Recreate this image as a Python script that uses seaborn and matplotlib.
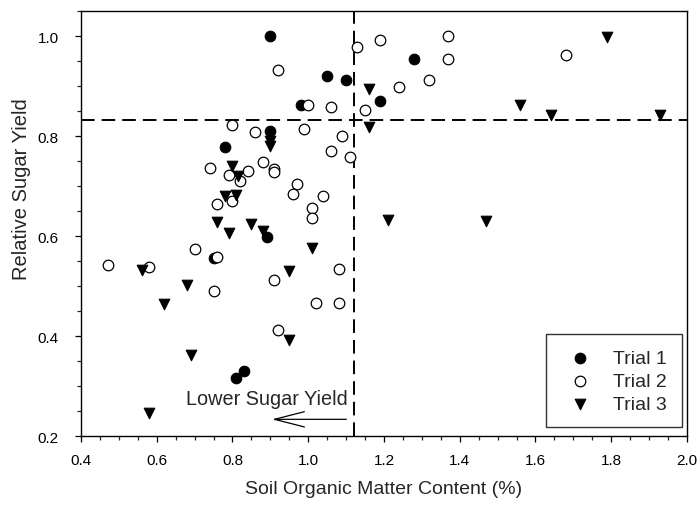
import numpy as np
import pandas as pd
import matplotlib
matplotlib.use('Agg')
import matplotlib.pyplot as plt
from matplotlib.ticker import MultipleLocator, FormatStrFormatter
import seaborn as sns

# Dati
trial1_x = [0.90, 1.05, 1.10, 0.98, 1.19, 1.28, 0.90, 0.78, 0.89, 0.75, 0.81, 0.83]
trial1_y = [1.00, 0.921, 0.913, 0.863, 0.870, 0.955, 0.810, 0.778, 0.599, 0.557, 0.317, 0.330]

trial2_x = [0.92, 1.13, 1.19, 1.37, 1.37, 1.68, 1.32, 1.24, 1.00, 1.06, 1.15, 0.80, 0.86, 0.99,
            1.09, 1.06, 1.11, 0.74, 0.88, 0.91, 0.91, 0.79, 0.84, 0.82, 0.97, 0.96, 1.04, 1.01,
            1.01, 0.76, 0.80, 0.47, 0.58, 0.70, 0.75, 0.76, 0.91, 0.92, 1.02, 1.08, 1.08]
trial2_y = [0.933, 0.979, 0.992, 1.001, 0.955, 0.962, 0.913, 0.898, 0.862, 0.858, 0.853, 0.822, 0.809, 0.815,
            0.800, 0.770, 0.759, 0.736, 0.749, 0.735, 0.728, 0.722, 0.730, 0.710, 0.705, 0.685, 0.680, 0.657,
            0.637, 0.665, 0.671, 0.542, 0.538, 0.575, 0.491, 0.559, 0.513, 0.413, 0.466, 0.467, 0.535]

trial3_x = [1.16, 1.16, 0.90, 0.90, 0.80, 0.815, 0.78, 0.81, 0.76, 0.79, 0.85, 0.88, 0.56,
            0.62, 0.68, 0.69, 0.58, 0.95, 0.95, 1.01, 1.56, 1.64, 1.93, 1.79, 1.21, 1.47]
trial3_y = [0.895, 0.819, 0.790, 0.780, 0.740, 0.720, 0.680, 0.683, 0.629, 0.607, 0.625, 0.610, 0.533,
            0.465, 0.503, 0.362, 0.247, 0.531, 0.393, 0.577, 0.863, 0.842, 0.843, 0.998, 0.633, 0.630]

# Soglie (linee tratteggiate)
soglia_som = 1.12
soglia_resa = 0.833

sns.set_style('ticks')
plt.rcParams['font.family'] = ['Liberation Sans', 'DejaVu Sans']

fig = plt.figure(figsize=(7, 5.1), dpi=100)
ax = fig.add_axes([0.1157, 0.1431, 0.8657, 0.8333])

sns.scatterplot(x=trial1_x, y=trial1_y, ax=ax, marker='o', s=58, color='black',
                edgecolor='black', linewidth=0.8, label='Trial 1', zorder=3)
sns.scatterplot(x=trial2_x, y=trial2_y, ax=ax, marker='o', s=58, color='white',
                edgecolor='black', linewidth=0.9, label='Trial 2', zorder=3)
sns.scatterplot(x=trial3_x, y=trial3_y, ax=ax, marker='v', s=58, color='black',
                edgecolor='black', linewidth=0.8, label='Trial 3', zorder=3)

ax.axhline(soglia_resa, color='black', lw=1.4, linestyle=(0, (7, 3.6)), zorder=2)
ax.axvline(soglia_som, color='black', lw=1.4, linestyle=(0, (7, 3.6)), zorder=2)

# Freccia e testo
ax.annotate('', xy=(0.897, 0.2334), xytext=(1.108, 0.2334),
            arrowprops=dict(arrowstyle='->,head_length=2.15,head_width=0.55', color='black', lw=0.9))
ax.text(1.105, 0.275, 'Lower Sugar Yield', ha='right', va='center', fontsize=14.3)

ax.set_xlim(0.4, 2.0)
ax.set_ylim(0.2, 1.05)
ax.xaxis.set_major_locator(MultipleLocator(0.2))
ax.xaxis.set_minor_locator(MultipleLocator(0.05))
ax.yaxis.set_major_locator(MultipleLocator(0.2))
ax.yaxis.set_minor_locator(MultipleLocator(0.05))
ax.xaxis.set_major_formatter(FormatStrFormatter('%.1f'))
ax.yaxis.set_major_formatter(FormatStrFormatter('%.1f'))
ax.tick_params(which='major', direction='out', length=4.5, width=0.9, labelsize=11, colors='black')
ax.tick_params(which='minor', direction='out', length=3, width=0.9)
ax.tick_params(axis='x', which='major', pad=7.8)
ax.tick_params(axis='y', which='major', pad=11.5)

for sp in ax.spines.values():
    sp.set_visible(True)
    sp.set_color('black')
    sp.set_linewidth(1.0)

ax.set_xlabel('Soil Organic Matter Content (%)', fontsize=14, labelpad=9.5)
ax.set_ylabel('Relative Sugar Yield', fontsize=14.5)
ax.yaxis.set_label_coords(-0.083, 0.5835)

leg = ax.legend(loc='lower right', bbox_to_anchor=(0.991, 0.0205), borderaxespad=0,
                fontsize=14, frameon=True, fancybox=False, edgecolor='black',
                borderpad=0.75, handletextpad=0.7, labelspacing=0.28)
leg.get_frame().set_linewidth(1.0)

plt.savefig('out.png', dpi=100)
